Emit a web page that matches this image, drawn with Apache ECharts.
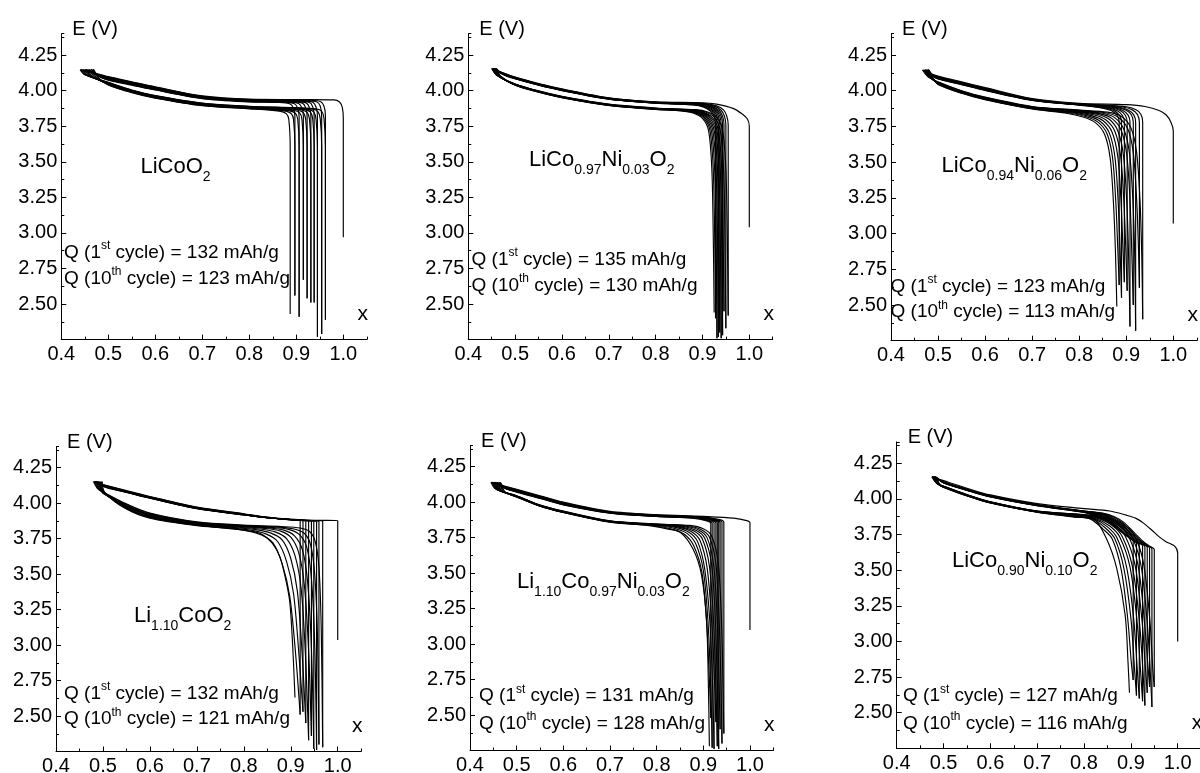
<!DOCTYPE html>
<html><head><meta charset="utf-8">
<script src="https://cdn.jsdelivr.net/npm/echarts@6.0.0/dist/echarts.min.js"></script>
<style>html,body{margin:0;padding:0;background:#fff}#c{width:1200px;height:773px}</style>
</head><body><div id="c"></div>
<script>
// ---------- DATA (x, E in V) ----------
const compounds = [
  '{m|LiCoO}{s|2}',
  '{m|LiCo}{s|0.97}{m|Ni}{s|0.03}{m|O}{s|2}',
  '{m|LiCo}{s|0.94}{m|Ni}{s|0.06}{m|O}{s|2}',
  '{m|Li}{s|1.10}{m|CoO}{s|2}',
  '{m|Li}{s|1.10}{m|Co}{s|0.97}{m|Ni}{s|0.03}{m|O}{s|2}',
  '{m|LiCo}{s|0.90}{m|Ni}{s|0.10}{m|O}{s|2}'
];
const q1st = [132, 135, 123, 132, 131, 127];
const q10th = [123, 130, 113, 121, 128, 116];

// Panel 1: LiCoO2
const licoo2Charge = [
 [[1.000,2.97],[1.000,3.80],[0.998,3.88],[0.992,3.92],[0.980,3.935],[0.900,3.937],[0.800,3.940],[0.700,3.963],[0.600,4.027],[0.550,4.062],[0.500,4.098],[0.460,4.132],[0.440,4.146]],
 [[0.962,2.39],[0.962,3.82],[0.959,3.89],[0.952,3.922],[0.930,3.932],[0.800,3.937],[0.700,3.960],[0.600,4.024],[0.550,4.059],[0.500,4.095],[0.460,4.130],[0.442,4.146]],
 [[0.954,2.29],[0.954,3.82],[0.951,3.89],[0.944,3.920],[0.920,3.930],[0.800,3.935],[0.700,3.958],[0.600,4.021],[0.550,4.056],[0.500,4.092],[0.465,4.125],[0.445,4.147]],
 [[0.945,2.27],[0.945,3.82],[0.942,3.885],[0.935,3.918],[0.910,3.928],[0.800,3.933],[0.700,3.956],[0.600,4.018],[0.550,4.053],[0.500,4.089],[0.465,4.122],[0.447,4.147]],
 [[0.938,2.51],[0.938,3.82],[0.935,3.885],[0.928,3.916],[0.900,3.927],[0.800,3.931],[0.700,3.954],[0.600,4.015],[0.550,4.050],[0.500,4.086],[0.470,4.118],[0.450,4.148]],
 [[0.931,2.51],[0.931,3.82],[0.928,3.88],[0.921,3.914],[0.895,3.925],[0.800,3.929],[0.700,3.952],[0.600,4.012],[0.550,4.047],[0.500,4.083],[0.470,4.115],[0.453,4.148]],
 [[0.923,2.54],[0.923,3.82],[0.920,3.88],[0.913,3.912],[0.890,3.923],[0.800,3.927],[0.700,3.950],[0.600,4.010],[0.550,4.045],[0.500,4.080],[0.475,4.112],[0.456,4.149]],
 [[0.915,2.67],[0.915,3.82],[0.912,3.878],[0.905,3.910],[0.880,3.921],[0.800,3.925],[0.700,3.948],[0.600,4.008],[0.550,4.043],[0.500,4.078],[0.475,4.108],[0.460,4.149]],
 [[0.906,2.41],[0.906,3.82],[0.903,3.876],[0.896,3.908],[0.870,3.919],[0.800,3.923],[0.700,3.946],[0.600,4.006],[0.550,4.041],[0.500,4.076],[0.480,4.103],[0.464,4.150]],
 [[0.897,2.56],[0.897,3.82],[0.894,3.874],[0.887,3.906],[0.860,3.917],[0.800,3.921],[0.700,3.944],[0.600,4.004],[0.550,4.039],[0.500,4.074],[0.480,4.100],[0.468,4.150]]
];
const licoo2Discharge = [
 [[0.440,4.146],[0.450,4.112],[0.500,4.058],[0.550,4.004],[0.600,3.965],[0.700,3.912],[0.800,3.890],[0.900,3.880],[0.942,3.872],[0.954,3.855],[0.959,3.80],[0.962,3.60],[0.962,2.39]],
 [[0.442,4.146],[0.452,4.110],[0.500,4.056],[0.550,4.002],[0.600,3.963],[0.700,3.910],[0.800,3.888],[0.895,3.878],[0.934,3.870],[0.946,3.853],[0.951,3.80],[0.954,3.60],[0.954,2.29]],
 [[0.445,4.147],[0.455,4.108],[0.500,4.054],[0.550,4.000],[0.600,3.961],[0.700,3.908],[0.800,3.886],[0.890,3.876],[0.925,3.868],[0.937,3.851],[0.942,3.80],[0.945,3.60],[0.945,2.27]],
 [[0.447,4.147],[0.457,4.106],[0.500,4.052],[0.550,3.998],[0.600,3.959],[0.700,3.906],[0.800,3.884],[0.885,3.874],[0.918,3.866],[0.930,3.849],[0.935,3.80],[0.938,3.60],[0.938,2.51]],
 [[0.450,4.148],[0.460,4.104],[0.500,4.050],[0.550,3.996],[0.600,3.957],[0.700,3.904],[0.800,3.882],[0.880,3.872],[0.911,3.864],[0.923,3.847],[0.928,3.80],[0.931,3.60],[0.931,2.51]],
 [[0.453,4.148],[0.463,4.102],[0.500,4.048],[0.550,3.994],[0.600,3.955],[0.700,3.902],[0.800,3.880],[0.870,3.870],[0.903,3.862],[0.915,3.845],[0.920,3.80],[0.923,3.60],[0.923,2.54]],
 [[0.456,4.149],[0.466,4.100],[0.500,4.046],[0.550,3.992],[0.600,3.953],[0.700,3.900],[0.800,3.878],[0.860,3.868],[0.895,3.860],[0.907,3.843],[0.912,3.80],[0.915,3.60],[0.915,2.67]],
 [[0.460,4.149],[0.470,4.098],[0.500,4.044],[0.550,3.990],[0.600,3.951],[0.700,3.898],[0.800,3.876],[0.855,3.866],[0.886,3.858],[0.898,3.841],[0.903,3.80],[0.906,3.60],[0.906,2.41]],
 [[0.464,4.150],[0.474,4.096],[0.500,4.042],[0.550,3.988],[0.600,3.949],[0.700,3.896],[0.800,3.874],[0.850,3.864],[0.877,3.856],[0.889,3.839],[0.894,3.80],[0.897,3.60],[0.897,2.56]],
 [[0.468,4.150],[0.478,4.094],[0.500,4.040],[0.550,3.986],[0.600,3.947],[0.700,3.894],[0.800,3.872],[0.845,3.862],[0.867,3.854],[0.879,3.837],[0.884,3.80],[0.887,3.60],[0.887,2.43]]
];

// Panel 2: LiCo0.97Ni0.03O2
const ni03Charge = [
 [[1.000,3.04],[1.000,3.75],[0.996,3.80],[0.985,3.835],[0.965,3.875],[0.930,3.905],[0.900,3.915],[0.800,3.922],[0.700,3.950],[0.600,4.012],[0.550,4.050],[0.500,4.095],[0.470,4.130],[0.450,4.155]],
 [[0.955,2.42],[0.955,3.76],[0.952,3.82],[0.945,3.865],[0.930,3.893],[0.900,3.910],[0.800,3.920],[0.700,3.948],[0.600,4.010],[0.550,4.048],[0.500,4.093],[0.470,4.128],[0.451,4.155]],
 [[0.950,2.33],[0.950,3.76],[0.947,3.82],[0.940,3.862],[0.925,3.891],[0.900,3.908],[0.800,3.918],[0.700,3.946],[0.600,4.008],[0.550,4.046],[0.500,4.091],[0.470,4.126],[0.452,4.155]],
 [[0.946,2.45],[0.946,3.76],[0.943,3.82],[0.936,3.860],[0.920,3.890],[0.895,3.906],[0.800,3.917],[0.700,3.945],[0.600,4.006],[0.550,4.044],[0.500,4.089],[0.470,4.124],[0.453,4.155]],
 [[0.943,2.28],[0.943,3.76],[0.940,3.82],[0.933,3.858],[0.918,3.889],[0.890,3.905],[0.800,3.916],[0.700,3.944],[0.600,4.005],[0.550,4.043],[0.500,4.088],[0.470,4.122],[0.454,4.155]],
 [[0.940,2.26],[0.940,3.76],[0.937,3.82],[0.930,3.857],[0.915,3.888],[0.890,3.904],[0.800,3.915],[0.700,3.943],[0.600,4.004],[0.550,4.042],[0.500,4.087],[0.470,4.120],[0.455,4.155]],
 [[0.937,2.30],[0.937,3.76],[0.934,3.82],[0.927,3.856],[0.912,3.887],[0.885,3.903],[0.800,3.914],[0.700,3.942],[0.600,4.003],[0.550,4.041],[0.500,4.086],[0.475,4.115],[0.456,4.155]],
 [[0.934,2.27],[0.934,3.76],[0.931,3.82],[0.924,3.855],[0.909,3.886],[0.885,3.902],[0.800,3.913],[0.700,3.941],[0.600,4.002],[0.550,4.040],[0.500,4.085],[0.475,4.114],[0.457,4.155]],
 [[0.931,2.26],[0.931,3.76],[0.928,3.82],[0.921,3.854],[0.906,3.885],[0.880,3.901],[0.800,3.912],[0.700,3.940],[0.600,4.001],[0.550,4.039],[0.500,4.084],[0.475,4.113],[0.458,4.155]],
 [[0.928,2.40],[0.928,3.76],[0.925,3.82],[0.918,3.853],[0.903,3.884],[0.880,3.900],[0.800,3.911],[0.700,3.939],[0.600,4.000],[0.550,4.038],[0.500,4.083],[0.475,4.112],[0.460,4.155]]
];
const ni03Discharge = [
 [[0.450,4.155],[0.460,4.110],[0.500,4.047],[0.550,3.998],[0.600,3.960],[0.700,3.905],[0.800,3.878],[0.885,3.866],[0.910,3.852],[0.930,3.815],[0.943,3.72],[0.950,3.45],[0.953,3.00],[0.955,2.42]],
 [[0.451,4.155],[0.461,4.108],[0.500,4.046],[0.550,3.997],[0.600,3.958],[0.700,3.903],[0.800,3.876],[0.880,3.865],[0.905,3.851],[0.925,3.813],[0.938,3.72],[0.945,3.45],[0.948,3.00],[0.950,2.33]],
 [[0.452,4.155],[0.462,4.106],[0.500,4.045],[0.550,3.996],[0.600,3.957],[0.700,3.902],[0.800,3.875],[0.876,3.864],[0.901,3.850],[0.921,3.812],[0.934,3.72],[0.941,3.45],[0.944,3.00],[0.946,2.45]],
 [[0.453,4.155],[0.463,4.105],[0.500,4.044],[0.550,3.995],[0.600,3.956],[0.700,3.901],[0.800,3.874],[0.873,3.863],[0.898,3.849],[0.918,3.811],[0.931,3.72],[0.938,3.45],[0.941,3.00],[0.943,2.28]],
 [[0.454,4.155],[0.464,4.104],[0.500,4.043],[0.550,3.994],[0.600,3.955],[0.700,3.900],[0.800,3.873],[0.870,3.862],[0.895,3.848],[0.915,3.810],[0.928,3.72],[0.935,3.45],[0.938,3.00],[0.940,2.26]],
 [[0.455,4.155],[0.465,4.103],[0.500,4.042],[0.550,3.993],[0.600,3.954],[0.700,3.899],[0.800,3.872],[0.867,3.861],[0.892,3.847],[0.912,3.809],[0.925,3.72],[0.932,3.45],[0.935,3.00],[0.937,2.30]],
 [[0.456,4.155],[0.466,4.102],[0.500,4.041],[0.550,3.992],[0.600,3.953],[0.700,3.898],[0.800,3.871],[0.864,3.860],[0.889,3.846],[0.909,3.808],[0.922,3.72],[0.929,3.45],[0.932,3.00],[0.934,2.27]],
 [[0.457,4.155],[0.467,4.101],[0.500,4.040],[0.550,3.991],[0.600,3.952],[0.700,3.897],[0.800,3.870],[0.861,3.859],[0.886,3.845],[0.906,3.807],[0.919,3.72],[0.926,3.45],[0.929,3.00],[0.931,2.26]],
 [[0.458,4.155],[0.468,4.100],[0.500,4.039],[0.550,3.990],[0.600,3.951],[0.700,3.896],[0.800,3.869],[0.858,3.858],[0.883,3.844],[0.903,3.806],[0.916,3.72],[0.923,3.45],[0.926,3.00],[0.928,2.40]],
 [[0.460,4.155],[0.470,4.099],[0.500,4.038],[0.550,3.989],[0.600,3.950],[0.700,3.895],[0.800,3.868],[0.855,3.857],[0.880,3.843],[0.900,3.805],[0.913,3.72],[0.920,3.45],[0.923,3.00],[0.925,2.44]]
];

// Panel 3: LiCo0.94Ni0.06O2
const ni06Charge = [
 [[1.000,3.07],[1.000,3.72],[0.995,3.78],[0.985,3.83],[0.970,3.862],[0.940,3.890],[0.900,3.903],[0.800,3.912],[0.700,3.945],[0.600,4.022],[0.550,4.062],[0.500,4.102],[0.480,4.125],[0.467,4.145]],
 [[0.935,2.40],[0.935,3.78],[0.931,3.835],[0.920,3.868],[0.900,3.888],[0.850,3.900],[0.800,3.908],[0.700,3.942],[0.600,4.018],[0.550,4.058],[0.500,4.098],[0.480,4.122],[0.469,4.145]],
 [[0.928,2.62],[0.928,3.78],[0.924,3.833],[0.913,3.866],[0.893,3.886],[0.850,3.898],[0.800,3.906],[0.700,3.940],[0.600,4.016],[0.550,4.056],[0.500,4.096],[0.480,4.120],[0.470,4.145]],
 [[0.920,2.32],[0.920,3.78],[0.916,3.831],[0.905,3.864],[0.885,3.884],[0.850,3.896],[0.800,3.905],[0.700,3.938],[0.600,4.014],[0.550,4.054],[0.500,4.094],[0.485,4.115],[0.472,4.146]],
 [[0.915,2.50],[0.915,3.78],[0.911,3.830],[0.900,3.863],[0.880,3.883],[0.850,3.895],[0.800,3.904],[0.700,3.937],[0.600,4.012],[0.550,4.052],[0.500,4.092],[0.485,4.113],[0.473,4.146]],
 [[0.908,2.35],[0.908,3.78],[0.904,3.829],[0.893,3.862],[0.873,3.882],[0.840,3.894],[0.800,3.903],[0.700,3.936],[0.600,4.010],[0.550,4.050],[0.500,4.090],[0.485,4.112],[0.475,4.146]],
 [[0.902,2.60],[0.902,3.78],[0.898,3.828],[0.887,3.861],[0.867,3.881],[0.840,3.893],[0.800,3.902],[0.700,3.935],[0.600,4.008],[0.550,4.048],[0.500,4.088],[0.485,4.110],[0.476,4.147]],
 [[0.896,2.66],[0.896,3.78],[0.892,3.827],[0.881,3.860],[0.861,3.880],[0.830,3.892],[0.800,3.901],[0.700,3.934],[0.600,4.006],[0.550,4.046],[0.500,4.086],[0.490,4.105],[0.478,4.147]],
 [[0.890,2.55],[0.890,3.78],[0.886,3.826],[0.875,3.859],[0.855,3.879],[0.830,3.891],[0.800,3.900],[0.700,3.933],[0.600,4.004],[0.550,4.044],[0.500,4.084],[0.490,4.103],[0.479,4.147]],
 [[0.885,2.64],[0.885,3.78],[0.881,3.825],[0.870,3.858],[0.850,3.878],[0.825,3.890],[0.800,3.899],[0.700,3.932],[0.600,4.002],[0.550,4.042],[0.500,4.082],[0.490,4.101],[0.480,4.147]]
];
const ni06Discharge = [
 [[0.467,4.145],[0.478,4.100],[0.500,4.062],[0.550,4.000],[0.600,3.955],[0.700,3.890],[0.800,3.865],[0.860,3.850],[0.890,3.820],[0.910,3.740],[0.922,3.570],[0.929,3.250],[0.933,2.850],[0.935,2.40]],
 [[0.469,4.145],[0.480,4.098],[0.500,4.060],[0.550,3.998],[0.600,3.953],[0.700,3.888],[0.800,3.862],[0.855,3.846],[0.883,3.815],[0.903,3.735],[0.915,3.565],[0.922,3.245],[0.926,2.900],[0.928,2.62]],
 [[0.470,4.145],[0.481,4.096],[0.500,4.058],[0.550,3.996],[0.600,3.951],[0.700,3.886],[0.800,3.859],[0.850,3.842],[0.876,3.810],[0.895,3.730],[0.907,3.560],[0.914,3.240],[0.918,2.850],[0.920,2.32]],
 [[0.472,4.146],[0.483,4.094],[0.500,4.056],[0.550,3.994],[0.600,3.949],[0.700,3.884],[0.800,3.856],[0.845,3.838],[0.870,3.805],[0.889,3.725],[0.901,3.555],[0.908,3.235],[0.912,2.850],[0.915,2.50]],
 [[0.473,4.146],[0.484,4.092],[0.500,4.054],[0.550,3.992],[0.600,3.947],[0.700,3.882],[0.800,3.853],[0.840,3.834],[0.864,3.800],[0.882,3.720],[0.894,3.550],[0.901,3.230],[0.905,2.850],[0.908,2.35]],
 [[0.475,4.146],[0.486,4.090],[0.500,4.052],[0.550,3.990],[0.600,3.945],[0.700,3.880],[0.790,3.852],[0.832,3.830],[0.857,3.795],[0.876,3.715],[0.888,3.545],[0.895,3.225],[0.899,2.900],[0.902,2.60]],
 [[0.476,4.147],[0.487,4.088],[0.500,4.050],[0.550,3.988],[0.600,3.943],[0.700,3.878],[0.785,3.850],[0.826,3.826],[0.851,3.790],[0.870,3.710],[0.882,3.540],[0.889,3.220],[0.893,2.900],[0.896,2.66]],
 [[0.478,4.147],[0.489,4.086],[0.500,4.048],[0.550,3.986],[0.600,3.941],[0.700,3.876],[0.780,3.848],[0.820,3.822],[0.845,3.785],[0.864,3.705],[0.876,3.535],[0.883,3.215],[0.887,2.880],[0.890,2.55]],
 [[0.479,4.147],[0.490,4.084],[0.500,4.046],[0.550,3.984],[0.600,3.939],[0.700,3.874],[0.775,3.846],[0.815,3.818],[0.840,3.780],[0.859,3.700],[0.871,3.530],[0.878,3.210],[0.882,2.900],[0.885,2.64]],
 [[0.480,4.147],[0.491,4.082],[0.500,4.044],[0.550,3.982],[0.600,3.937],[0.700,3.872],[0.770,3.844],[0.810,3.814],[0.835,3.775],[0.854,3.695],[0.866,3.525],[0.873,3.205],[0.877,2.880],[0.880,2.49]]
];

// Panel 4: Li1.10CoO2
const li110Charge = [
 [[1.000,3.035],[1.000,3.877],[0.950,3.879],[0.900,3.887],[0.850,3.902],[0.800,3.925],[0.700,3.972],[0.600,4.047],[0.550,4.088],[0.500,4.132],[0.480,4.152]],
 [[0.968,2.28],[0.968,3.874],[0.950,3.877],[0.900,3.885],[0.850,3.900],[0.800,3.923],[0.700,3.970],[0.600,4.045],[0.550,4.086],[0.500,4.130],[0.482,4.152]],
 [[0.960,2.30],[0.960,3.873],[0.940,3.877],[0.900,3.884],[0.850,3.899],[0.800,3.922],[0.700,3.968],[0.600,4.043],[0.550,4.084],[0.500,4.128],[0.484,4.152]],
 [[0.955,2.26],[0.955,3.873],[0.940,3.876],[0.900,3.883],[0.850,3.898],[0.800,3.921],[0.700,3.967],[0.600,4.041],[0.550,4.082],[0.500,4.126],[0.486,4.152]],
 [[0.949,2.27],[0.949,3.873],[0.930,3.877],[0.900,3.883],[0.850,3.897],[0.800,3.920],[0.700,3.966],[0.600,4.040],[0.550,4.081],[0.500,4.125],[0.488,4.152]],
 [[0.944,2.36],[0.944,3.874],[0.925,3.878],[0.900,3.883],[0.850,3.897],[0.800,3.919],[0.700,3.965],[0.600,4.039],[0.550,4.080],[0.500,4.124],[0.490,4.152]],
 [[0.938,2.33],[0.938,3.875],[0.920,3.879],[0.900,3.884],[0.850,3.897],[0.800,3.919],[0.700,3.964],[0.600,4.038],[0.550,4.079],[0.500,4.123],[0.492,4.152]],
 [[0.932,2.45],[0.932,3.876],[0.915,3.880],[0.900,3.884],[0.850,3.897],[0.800,3.918],[0.700,3.963],[0.600,4.037],[0.550,4.078],[0.500,4.122],[0.494,4.152]],
 [[0.926,2.53],[0.926,3.877],[0.910,3.881],[0.900,3.885],[0.850,3.897],[0.800,3.918],[0.700,3.962],[0.600,4.036],[0.550,4.077],[0.500,4.121],[0.496,4.152]],
 [[0.920,2.51],[0.920,3.878],[0.900,3.885],[0.850,3.897],[0.800,3.917],[0.700,3.961],[0.600,4.035],[0.550,4.076],[0.500,4.120],[0.498,4.152]]
];
const li110Discharge = [
 [[0.480,4.152],[0.488,4.105],[0.500,4.080],[0.550,3.995],[0.600,3.930],[0.700,3.868],[0.800,3.845],[0.880,3.835],[0.920,3.825],[0.940,3.800],[0.952,3.730],[0.960,3.550],[0.965,3.100],[0.968,2.28]],
 [[0.482,4.152],[0.490,4.100],[0.500,4.078],[0.550,3.990],[0.600,3.926],[0.700,3.865],[0.800,3.842],[0.870,3.832],[0.905,3.820],[0.928,3.790],[0.942,3.710],[0.951,3.500],[0.957,3.050],[0.960,2.30]],
 [[0.484,4.152],[0.492,4.098],[0.500,4.076],[0.550,3.986],[0.600,3.922],[0.700,3.862],[0.800,3.839],[0.860,3.829],[0.895,3.815],[0.918,3.780],[0.934,3.690],[0.944,3.470],[0.951,3.000],[0.955,2.26]],
 [[0.486,4.152],[0.494,4.095],[0.500,4.074],[0.550,3.982],[0.600,3.918],[0.700,3.859],[0.800,3.836],[0.850,3.826],[0.885,3.810],[0.908,3.770],[0.925,3.670],[0.936,3.440],[0.944,2.980],[0.949,2.27]],
 [[0.488,4.152],[0.496,4.092],[0.500,4.072],[0.550,3.978],[0.600,3.914],[0.700,3.856],[0.800,3.833],[0.845,3.822],[0.878,3.803],[0.900,3.760],[0.917,3.650],[0.929,3.420],[0.938,2.960],[0.944,2.36]],
 [[0.490,4.152],[0.498,4.090],[0.500,4.070],[0.550,3.974],[0.600,3.910],[0.700,3.853],[0.790,3.830],[0.835,3.818],[0.868,3.796],[0.891,3.750],[0.909,3.630],[0.922,3.400],[0.931,2.950],[0.938,2.33]],
 [[0.492,4.150],[0.500,4.080],[0.550,3.970],[0.600,3.906],[0.700,3.850],[0.780,3.828],[0.825,3.814],[0.858,3.789],[0.882,3.740],[0.900,3.610],[0.914,3.380],[0.924,2.950],[0.932,2.45]],
 [[0.494,4.150],[0.500,4.085],[0.550,3.966],[0.600,3.902],[0.700,3.847],[0.770,3.826],[0.815,3.810],[0.848,3.782],[0.872,3.730],[0.891,3.590],[0.906,3.360],[0.917,2.950],[0.926,2.53]],
 [[0.496,4.150],[0.502,4.080],[0.550,3.962],[0.600,3.898],[0.700,3.844],[0.760,3.824],[0.805,3.806],[0.838,3.775],[0.862,3.720],[0.882,3.570],[0.898,3.340],[0.910,2.950],[0.920,2.51]],
 [[0.498,4.150],[0.504,4.075],[0.550,3.958],[0.600,3.894],[0.700,3.841],[0.760,3.825],[0.800,3.810],[0.834,3.787],[0.860,3.720],[0.877,3.620],[0.890,3.450],[0.898,3.300],[0.904,3.000],[0.909,2.63]]
];

// Panel 5: Li1.10Co0.97Ni0.03O2
const li110ni03Charge = [
 [[1.000,3.10],[1.000,3.855],[0.993,3.870],[0.965,3.888],[0.900,3.900],[0.800,3.912],[0.700,3.935],[0.600,4.000],[0.550,4.045],[0.500,4.090],[0.460,4.125],[0.445,4.140]],
 [[0.944,2.37],[0.944,3.860],[0.935,3.878],[0.900,3.895],[0.800,3.908],[0.700,3.932],[0.600,3.997],[0.550,4.042],[0.500,4.087],[0.460,4.122],[0.447,4.140]],
 [[0.940,2.30],[0.940,3.858],[0.930,3.876],[0.900,3.893],[0.800,3.906],[0.700,3.930],[0.600,3.995],[0.550,4.040],[0.500,4.085],[0.460,4.120],[0.449,4.140]],
 [[0.936,2.40],[0.936,3.857],[0.926,3.875],[0.900,3.892],[0.800,3.905],[0.700,3.929],[0.600,3.993],[0.550,4.038],[0.500,4.083],[0.465,4.115],[0.451,4.140]],
 [[0.933,2.26],[0.933,3.856],[0.923,3.874],[0.900,3.891],[0.800,3.904],[0.700,3.928],[0.600,3.991],[0.550,4.036],[0.500,4.081],[0.465,4.113],[0.453,4.140]],
 [[0.930,2.28],[0.930,3.855],[0.920,3.873],[0.900,3.890],[0.800,3.903],[0.700,3.927],[0.600,3.989],[0.550,4.034],[0.500,4.079],[0.465,4.111],[0.455,4.140]],
 [[0.927,2.45],[0.927,3.854],[0.917,3.872],[0.895,3.889],[0.800,3.902],[0.700,3.926],[0.600,3.987],[0.550,4.032],[0.500,4.077],[0.470,4.106],[0.457,4.140]],
 [[0.923,2.26],[0.923,3.853],[0.913,3.871],[0.890,3.888],[0.800,3.901],[0.700,3.925],[0.600,3.985],[0.550,4.030],[0.500,4.075],[0.470,4.104],[0.459,4.140]],
 [[0.919,2.27],[0.919,3.852],[0.909,3.870],[0.885,3.887],[0.800,3.900],[0.700,3.924],[0.600,3.983],[0.550,4.028],[0.500,4.073],[0.475,4.100],[0.462,4.140]],
 [[0.916,2.48],[0.916,3.851],[0.906,3.869],[0.880,3.886],[0.800,3.899],[0.700,3.923],[0.600,3.981],[0.550,4.026],[0.500,4.071],[0.475,4.098],[0.465,4.140]]
];
const li110ni03Discharge = [
 [[0.445,4.140],[0.455,4.092],[0.500,4.045],[0.550,3.980],[0.600,3.937],[0.700,3.868],[0.800,3.846],[0.870,3.836],[0.900,3.812],[0.918,3.760],[0.932,3.570],[0.939,3.160],[0.942,2.750],[0.944,2.37]],
 [[0.447,4.140],[0.457,4.090],[0.500,4.044],[0.550,3.979],[0.600,3.935],[0.700,3.867],[0.800,3.845],[0.865,3.834],[0.895,3.808],[0.913,3.755],[0.927,3.565],[0.934,3.160],[0.938,2.700],[0.940,2.30]],
 [[0.449,4.140],[0.459,4.088],[0.500,4.043],[0.550,3.978],[0.600,3.934],[0.700,3.866],[0.800,3.843],[0.860,3.832],[0.890,3.804],[0.908,3.750],[0.922,3.560],[0.930,3.160],[0.934,2.700],[0.936,2.40]],
 [[0.451,4.140],[0.461,4.086],[0.500,4.042],[0.550,3.977],[0.600,3.933],[0.700,3.865],[0.800,3.842],[0.855,3.830],[0.885,3.800],[0.903,3.745],[0.918,3.555],[0.926,3.160],[0.930,2.700],[0.933,2.26]],
 [[0.453,4.140],[0.463,4.084],[0.500,4.041],[0.550,3.976],[0.600,3.932],[0.700,3.864],[0.800,3.841],[0.850,3.828],[0.880,3.796],[0.898,3.740],[0.913,3.550],[0.922,3.160],[0.927,2.700],[0.930,2.28]],
 [[0.455,4.140],[0.465,4.082],[0.500,4.040],[0.550,3.975],[0.600,3.931],[0.700,3.863],[0.800,3.840],[0.845,3.826],[0.875,3.792],[0.893,3.730],[0.908,3.540],[0.918,3.160],[0.924,2.750],[0.927,2.45]],
 [[0.457,4.140],[0.467,4.080],[0.500,4.039],[0.550,3.974],[0.600,3.930],[0.700,3.862],[0.795,3.839],[0.840,3.822],[0.870,3.786],[0.888,3.720],[0.903,3.530],[0.914,3.160],[0.920,2.700],[0.923,2.26]],
 [[0.459,4.140],[0.469,4.078],[0.500,4.038],[0.550,3.973],[0.600,3.929],[0.700,3.861],[0.790,3.838],[0.835,3.818],[0.865,3.780],[0.884,3.705],[0.900,3.520],[0.910,3.160],[0.916,2.700],[0.919,2.27]],
 [[0.462,4.140],[0.472,4.076],[0.500,4.037],[0.550,3.972],[0.600,3.928],[0.700,3.860],[0.785,3.837],[0.830,3.812],[0.860,3.772],[0.880,3.690],[0.897,3.505],[0.907,3.160],[0.913,2.750],[0.916,2.48]],
 [[0.465,4.135],[0.475,4.074],[0.500,4.036],[0.550,3.971],[0.600,3.927],[0.700,3.859],[0.780,3.836],[0.825,3.810],[0.850,3.790],[0.878,3.670],[0.896,3.490],[0.907,3.160],[0.911,2.690],[0.913,2.28]]
];

// Panel 6: LiCo0.90Ni0.10O2
const ni10Charge = [
 [[1.000,3.00],[1.000,3.62],[0.993,3.670],[0.975,3.700],[0.960,3.735],[0.945,3.780],[0.927,3.830],[0.910,3.865],[0.890,3.886],[0.855,3.915],[0.800,3.932],[0.700,3.967],[0.600,4.028],[0.550,4.075],[0.500,4.128],[0.475,4.155]],
 [[0.950,2.68],[0.950,3.645],[0.940,3.668],[0.925,3.705],[0.905,3.770],[0.885,3.835],[0.865,3.875],[0.840,3.900],[0.800,3.915],[0.700,3.960],[0.600,4.022],[0.550,4.068],[0.500,4.120],[0.476,4.155]],
 [[0.945,2.54],[0.945,3.650],[0.935,3.673],[0.920,3.710],[0.900,3.775],[0.880,3.838],[0.860,3.876],[0.835,3.900],[0.800,3.914],[0.700,3.959],[0.600,4.021],[0.550,4.067],[0.500,4.119],[0.477,4.155]],
 [[0.940,2.68],[0.940,3.655],[0.930,3.678],[0.915,3.715],[0.895,3.780],[0.875,3.840],[0.855,3.877],[0.830,3.900],[0.800,3.913],[0.700,3.958],[0.600,4.020],[0.550,4.066],[0.500,4.118],[0.478,4.155]],
 [[0.935,2.64],[0.935,3.660],[0.925,3.683],[0.910,3.720],[0.890,3.785],[0.870,3.842],[0.850,3.878],[0.825,3.900],[0.800,3.912],[0.700,3.957],[0.600,4.019],[0.550,4.065],[0.500,4.117],[0.479,4.155]],
 [[0.930,2.55],[0.930,3.665],[0.920,3.688],[0.905,3.725],[0.885,3.790],[0.865,3.845],[0.845,3.879],[0.820,3.900],[0.800,3.911],[0.700,3.956],[0.600,4.018],[0.550,4.064],[0.500,4.116],[0.480,4.155]],
 [[0.925,2.58],[0.925,3.670],[0.915,3.693],[0.900,3.730],[0.880,3.795],[0.860,3.847],[0.840,3.880],[0.800,3.910],[0.700,3.955],[0.600,4.017],[0.550,4.063],[0.500,4.115],[0.481,4.155]],
 [[0.918,2.60],[0.918,3.680],[0.908,3.703],[0.893,3.740],[0.873,3.802],[0.853,3.850],[0.833,3.881],[0.800,3.909],[0.700,3.954],[0.600,4.016],[0.550,4.062],[0.500,4.114],[0.482,4.155]],
 [[0.912,2.62],[0.912,3.690],[0.902,3.713],[0.887,3.750],[0.867,3.808],[0.847,3.853],[0.827,3.882],[0.800,3.906],[0.700,3.953],[0.600,4.015],[0.550,4.061],[0.500,4.113],[0.483,4.155]],
 [[0.905,2.73],[0.905,3.710],[0.895,3.733],[0.880,3.768],[0.860,3.820],[0.840,3.860],[0.820,3.884],[0.800,3.905],[0.700,3.952],[0.600,4.014],[0.550,4.060],[0.500,4.112],[0.485,4.155]]
];
const ni10Discharge = [
 [[0.475,4.155],[0.485,4.110],[0.500,4.090],[0.550,4.030],[0.600,3.980],[0.700,3.915],[0.800,3.890],[0.850,3.866],[0.880,3.830],[0.905,3.760],[0.927,3.550],[0.941,3.130],[0.947,2.800],[0.950,2.68]],
 [[0.476,4.155],[0.486,4.108],[0.500,4.089],[0.550,4.029],[0.600,3.979],[0.700,3.914],[0.800,3.888],[0.845,3.865],[0.875,3.826],[0.899,3.755],[0.921,3.545],[0.935,3.130],[0.942,2.750],[0.945,2.54]],
 [[0.477,4.155],[0.487,4.106],[0.500,4.088],[0.550,4.028],[0.600,3.978],[0.700,3.913],[0.800,3.886],[0.840,3.864],[0.870,3.822],[0.893,3.750],[0.915,3.540],[0.929,3.140],[0.936,2.850],[0.940,2.68]],
 [[0.478,4.155],[0.488,4.104],[0.500,4.087],[0.550,4.027],[0.600,3.977],[0.700,3.912],[0.800,3.884],[0.835,3.863],[0.865,3.818],[0.887,3.745],[0.909,3.535],[0.924,3.140],[0.931,2.820],[0.935,2.64]],
 [[0.479,4.155],[0.489,4.102],[0.500,4.086],[0.550,4.026],[0.600,3.976],[0.700,3.911],[0.800,3.882],[0.830,3.862],[0.860,3.814],[0.881,3.740],[0.903,3.530],[0.918,3.150],[0.926,2.780],[0.930,2.55]],
 [[0.480,4.155],[0.490,4.100],[0.500,4.085],[0.550,4.025],[0.600,3.975],[0.700,3.910],[0.795,3.880],[0.826,3.861],[0.855,3.810],[0.876,3.735],[0.898,3.525],[0.913,3.150],[0.921,2.780],[0.925,2.58]],
 [[0.481,4.155],[0.491,4.098],[0.500,4.084],[0.550,4.024],[0.600,3.974],[0.700,3.909],[0.790,3.878],[0.822,3.860],[0.850,3.804],[0.870,3.730],[0.891,3.520],[0.906,3.160],[0.914,2.790],[0.918,2.60]],
 [[0.482,4.155],[0.492,4.096],[0.500,4.083],[0.550,4.023],[0.600,3.973],[0.700,3.908],[0.785,3.876],[0.818,3.859],[0.845,3.798],[0.865,3.725],[0.885,3.515],[0.900,3.165],[0.908,2.800],[0.912,2.62]],
 [[0.483,4.155],[0.493,4.094],[0.500,4.082],[0.550,4.022],[0.600,3.972],[0.700,3.907],[0.780,3.874],[0.814,3.858],[0.840,3.790],[0.860,3.720],[0.879,3.510],[0.893,3.170],[0.901,2.850],[0.905,2.73]],
 [[0.485,4.140],[0.495,4.092],[0.500,4.081],[0.550,4.021],[0.600,3.971],[0.700,3.906],[0.780,3.872],[0.820,3.860],[0.848,3.720],[0.870,3.510],[0.888,3.180],[0.894,2.850],[0.897,2.64]]
];

// ---------- LAYOUT ----------
const FONT = '"Liberation Sans", Arial, Helvetica, sans-serif';
const grids = [
  {left: 61.3,  top: 33.7,  width: 305.5, height: 305.9},
  {left: 468.3, top: 33.7,  width: 304.4, height: 305.9},
  {left: 891,   top: 33.6,  width: 305.8, height: 307.1},
  {left: 56,    top: 446.4, width: 305.2, height: 305.1},
  {left: 470,   top: 445.4, width: 303.3, height: 305.1},
  {left: 896.7, top: 441.9, width: 304.4, height: 306.4}
];
const compoundPos = [[140.5,167],[529,160],[941.5,166],[134,615.5],[517,582],[952,560.5]];
const qPos = [[64,252.5,279],[471.5,259.5,285.5],[890.5,286.3,312.2],[64,693.8,719.2],[479,696.2,723.3],[903,696.2,723.3]];

const panelData = [
  [licoo2Charge, licoo2Discharge],
  [ni03Charge, ni03Discharge],
  [ni06Charge, ni06Discharge],
  [li110Charge, li110Discharge],
  [li110ni03Charge, li110ni03Discharge],
  [ni10Charge, ni10Discharge]
];

function fmtX(v){ const r = Math.round(v*10); return (Math.abs(v*10 - r) < 1e-6 && v <= 1.0001) ? (r/10).toFixed(1) : ''; }
function fmtY(v){ const r = Math.round(v*4); return (Math.abs(v*4 - r) < 1e-6 && v >= 2.49 && v <= 4.26) ? (r/4).toFixed(2) : ''; }

const gridOpts = [], xAxes = [], yAxes = [], series = [], graphics = [];
const black = '#000';
grids.forEach((g, i) => {
  gridOpts.push(Object.assign({containLabel: false, outerBoundsMode: 'none', show: false}, g));
  xAxes.push({gridIndex: i, type: 'value', min: 0.4, max: 1.05, interval: 0.1, position: 'bottom',
    axisLine: {show: true, onZero: false, lineStyle: {color: black, width: 1}},
    axisTick: {show: true, inside: true, length: 5, lineStyle: {color: black, width: 1}},
    axisLabel: {formatter: fmtX, color: black, fontSize: 20, fontFamily: FONT, margin: 5, showMaxLabel: false, hideOverlap: false},
    splitLine: {show: false},
    name: 'x', nameLocation: 'end', nameGap: -4,
    nameTextStyle: {color: black, fontSize: 21, fontFamily: FONT, align: 'center', verticalAlign: 'bottom', padding: [0,0,15,0]}
  });
  xAxes.push({gridIndex: i, type: 'value', min: 0.4, max: 1.05, interval: 0.05, position: 'bottom',
    axisLine: {show: false, onZero: false},
    axisTick: {show: true, inside: true, length: 3, lineStyle: {color: black, width: 1}},
    axisLabel: {show: false}, splitLine: {show: false}
  });
  yAxes.push({gridIndex: i, type: 'value', min: 2.25, max: 4.4, interval: 0.25, position: 'left',
    axisLine: {show: true, onZero: false, lineStyle: {color: black, width: 1}},
    axisTick: {show: true, inside: true, length: 5, lineStyle: {color: black, width: 1}},
    axisLabel: {formatter: fmtY, color: black, fontSize: 20, fontFamily: FONT, margin: 4, showMinLabel: false, showMaxLabel: false, hideOverlap: false},
    splitLine: {show: false},
    name: 'E (V)', nameLocation: 'end', nameGap: 4,
    nameTextStyle: {color: black, fontSize: 20, fontFamily: FONT, align: 'left', verticalAlign: 'middle', padding: [0,0,0,11]}
  });
  yAxes.push({gridIndex: i, type: 'value', min: 2.25, max: 4.4, interval: 0.125, position: 'left',
    axisLine: {show: false, onZero: false},
    axisTick: {show: true, inside: true, length: 3, lineStyle: {color: black, width: 1}},
    axisLabel: {show: false}, splitLine: {show: false}
  });

  const [ch, dis] = panelData[i];
  ch.concat(dis).forEach(curve => {
    series.push({type: 'line', xAxisIndex: 2*i, yAxisIndex: 2*i, data: curve,
      symbol: 'none', showSymbol: false, silent: true, animation: false, clip: true,
      smooth: 0.3,
      lineStyle: {color: black, width: 1.15}});
  });

  graphics.push({type: 'text', x: compoundPos[i][0], y: compoundPos[i][1], silent: true, z: 100,
    style: {text: compounds[i], align: 'left', verticalAlign: 'middle',
      rich: {
        m: {fontSize: 22, fontFamily: FONT, fill: black, lineHeight: 35},
        s: {fontSize: 14, fontFamily: FONT, fill: black, lineHeight: 14, verticalAlign: 'bottom'}
      }}});
  const qRich = {
    q: {fontSize: 19, fontFamily: FONT, fill: black, lineHeight: 26},
    p: {fontSize: 12, fontFamily: FONT, fill: black, lineHeight: 12, verticalAlign: 'top'}
  };
  graphics.push({type: 'text', x: qPos[i][0], y: qPos[i][1], silent: true, z: 100,
    style: {text: '{q|Q (1}{p|st}{q| cycle) = ' + q1st[i] + ' mAh/g}', align: 'left', verticalAlign: 'middle', rich: qRich}});
  graphics.push({type: 'text', x: qPos[i][0], y: qPos[i][2], silent: true, z: 100,
    style: {text: '{q|Q (10}{p|th}{q| cycle) = ' + q10th[i] + ' mAh/g}', align: 'left', verticalAlign: 'middle', rich: qRich}});
});

const chart = echarts.init(document.getElementById('c'), null, {renderer: 'canvas', width: 1200, height: 773});
chart.setOption({
  animation: false,
  backgroundColor: '#fff',
  grid: gridOpts,
  xAxis: xAxes,
  yAxis: yAxes,
  series: series,
  graphic: graphics
});
</script>
</body></html>
